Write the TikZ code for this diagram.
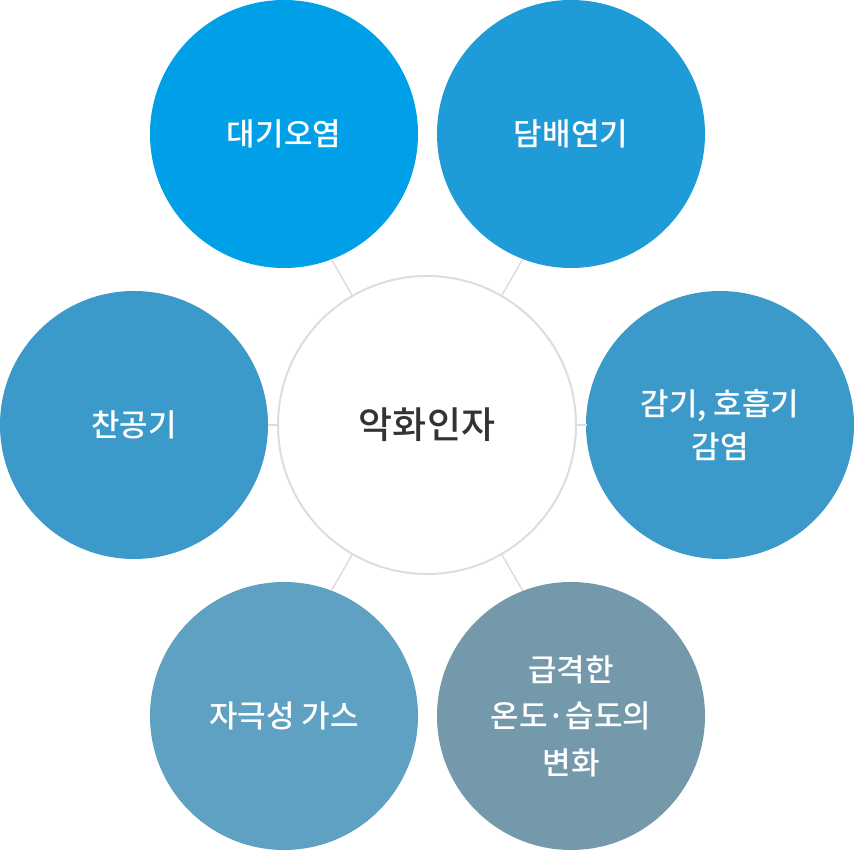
\documentclass[tikz,border=0pt]{standalone}
\usepackage{fontspec}
\usetikzlibrary{calc}
\setmainfont{Noto Sans CJK KR}[UprightFont=* Medium]
\definecolor{cA}{HTML}{00A0E9}
\definecolor{cB}{HTML}{1F9BD7}
\definecolor{cC}{HTML}{3B9AC9}
\definecolor{cD}{HTML}{5EA1C2}
\definecolor{cE}{HTML}{7399AA}
\definecolor{lineg}{HTML}{DDDDDD}
\definecolor{txt}{HTML}{333333}
\begin{document}
\begin{tikzpicture}[x=1pt,y=1pt,
  outer/.style={circle,minimum size=268pt,inner sep=0pt,outer sep=0pt,text=white,font=\fontsize{31}{43}\selectfont,align=center},
  center/.style={circle,draw=lineg,line width=2pt,fill=white,minimum size=298pt,inner sep=0pt,outer sep=0pt,text=txt,font=\fontsize{37}{42}\selectfont},
  conn/.style={draw=lineg,line width=1.5pt}]
\useasboundingbox (0,0) rectangle (855,850);
\node[center] (c) at (427,425) {악화인자};
\node[outer,fill=cA] (n1) at (284,716) {대기오염};
\node[outer,fill=cB] (n2) at (571,716) {담배연기};
\node[outer,fill=cC] (n3) at (720,425) {감기, 호흡기\\감염};
\node[outer,fill=cE,font=\fontsize{31}{46.5}\selectfont] (n4) at (571,134) {급격한\\온도·습도의\\변화};
\node[outer,fill=cD] (n5) at (284,134) {자극성 가스};
\node[outer,fill=cC] (n6) at (134,425) {찬공기};
\coordinate (e1) at ($(c)+(120:191.5)$);
\coordinate (e2) at ($(c)+(60:191.5)$);
\coordinate (e3) at ($(c)+(0:159.5)$);
\coordinate (e4) at ($(c)+(-60:191.5)$);
\coordinate (e5) at ($(c)+(-120:191.5)$);
\coordinate (e6) at ($(c)+(180:159.5)$);
\draw[conn] (c.120) -- (e1);
\draw[conn] (c.60) -- (e2);
\draw[conn] (c.0) -- (e3);
\draw[conn] (c.-60) -- (e4);
\draw[conn] (c.-120) -- (e5);
\draw[conn] (c.180) -- (e6);
\end{tikzpicture}
\end{document}
